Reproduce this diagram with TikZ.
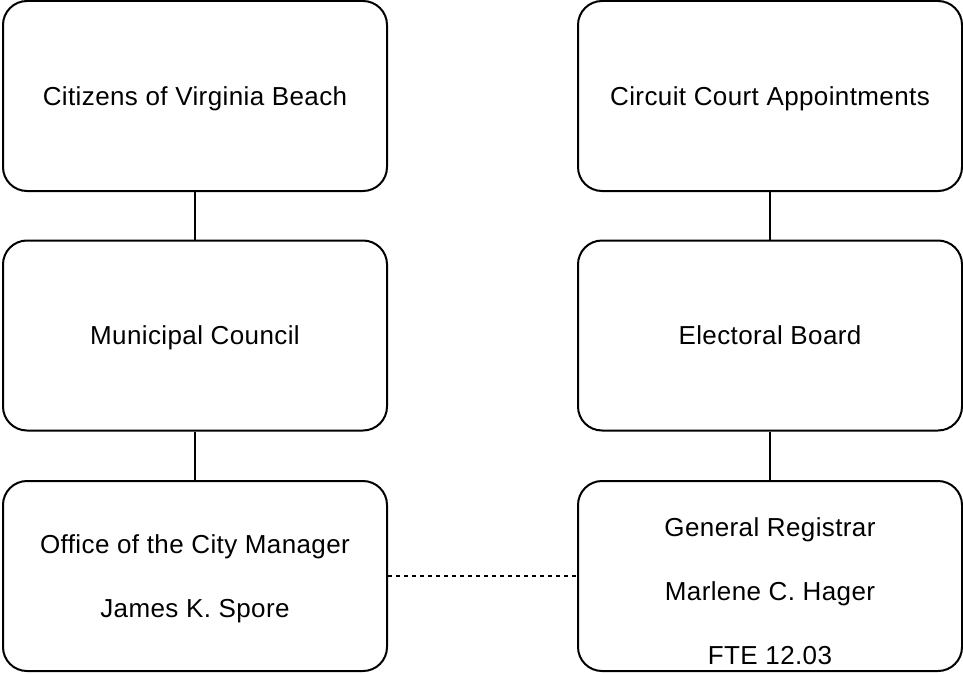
\documentclass[tikz,border=0pt]{standalone}
\usepackage{fontspec}
\setmainfont{Liberation Sans}[LetterSpace=1.5]
\begin{document}
\begin{tikzpicture}[x=0.75pt,y=-0.75pt,
  box/.style={draw=black,line width=1.5pt,rounded corners=18pt,minimum width=288pt,minimum height=142.5pt,inner sep=0pt,align=center,text depth=0pt,font=\fontsize{19.5}{23}\selectfont},
  txt/.style={align=center,inner sep=0pt,font=\fontsize{19.5}{23}\selectfont},
  link/.style={line width=1.5pt},
  dotlink/.style={line width=1.1pt,dash pattern=on 2.8pt off 3.2pt}]
\useasboundingbox (0,0) rectangle (963,674);
\node[box] (cit) at (195,96) {Citizens of Virginia Beach};
\node[box] (mun) at (195,335.5) {Municipal Council};
\node[box] (ocm) at (195,576) {Office of the City Manager\\[25pt]James K. Spore};
\node[box] (cca) at (770,96) {Circuit Court Appointments};
\node[box] (eb) at (770,335.5) {Electoral Board};
\node[box] (gr) at (770,576) {};
\node[txt] (grt) at ([yshift=-11.5pt]gr.center) {General Registrar\\[25pt]Marlene C. Hager\\[25pt]FTE 12.03};
\draw[link] (cit) -- (mun);
\draw[link] (mun) -- (ocm);
\draw[link] (cca) -- (eb);
\draw[link] (eb) -- (gr);
\draw[dotlink] (ocm.east) -- (gr.west);
\end{tikzpicture}
\end{document}
